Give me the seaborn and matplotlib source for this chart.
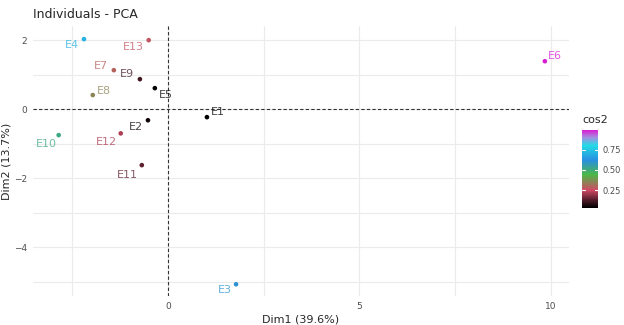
import numpy as np
import pandas as pd
import seaborn as sns
import matplotlib.pyplot as plt
from matplotlib.colors import LinearSegmentedColormap, Normalize
from matplotlib.cm import ScalarMappable

# 数据
names = ['E1', 'E2', 'E3', 'E4', 'E5', 'E6', 'E7', 'E8', 'E9', 'E10', 'E11', 'E12', 'E13']
dim1 = [1.02, -0.52, 1.78, -2.19, -0.34, 9.84, -1.41, -1.96, -0.73, -2.85, -0.68, -1.23, -0.50]
dim2 = [-0.23, -0.32, -5.07, 2.03, 0.61, 1.39, 1.13, 0.41, 0.87, -0.75, -1.62, -0.70, 2.00]
cos2 = [0.03, 0.05, 0.60, 0.70, 0.04, 0.99, 0.29, 0.35, 0.11, 0.51, 0.14, 0.22, 0.27]
# 标签偏移(像素)
lab_dx = [11, -12, -11, -12, 11, 10, -13, 11, -13, -12, -14, -14, -15]
lab_dy = [5, -7, -6, -6, -7, 5, 4, 4, 5, -9, -10, -9, -7]

df = pd.DataFrame({'name': names, 'Dim1': dim1, 'Dim2': dim2, 'cos2': cos2})

# 颜色渐变
vmin, vmax = min(cos2), max(cos2)
stops = [(0.0, '#000000'), (0.12, '#4a1a26'), (0.25, '#d04a64'), (0.44, '#4cb848'),
         (0.62, '#2a8fe0'), (0.80, '#22dbe6'), (0.90, '#a48ee0'), (1.0, '#d81ed4')]
cmap = LinearSegmentedColormap.from_list(
    'cos2', [(np.clip((v - vmin) / (vmax - vmin), 0, 1), c) for v, c in stops])
norm = Normalize(vmin=vmin, vmax=vmax)

sns.set_style('white')
plt.rcParams['font.family'] = ['DejaVu Sans']
fig = plt.figure(figsize=(6.24, 3.25), dpi=100)
ax = fig.add_axes([33 / 624, 1 - 296 / 325, 536 / 624, 270 / 325])

# 网格
for v in [-2.5, 0, 2.5, 5, 7.5, 10]:
    ax.axvline(v, color='#ebebeb', lw=0.8, zorder=0)
for v in [-5, -4, -3, -2, -1, 0, 1, 2]:
    ax.axhline(v, color='#ebebeb', lw=0.8, zorder=0)
ax.axhline(0, color='#333333', lw=0.8, ls=(0, (3, 2)), zorder=1)
ax.axvline(0, color='#333333', lw=0.8, ls=(0, (3, 2)), zorder=1)

sns.scatterplot(data=df, x='Dim1', y='Dim2', hue='cos2', palette=cmap, hue_norm=norm,
                s=11, linewidth=0, legend=False, ax=ax, zorder=3)

for i, row in df.iterrows():
    ax.annotate(row['name'], (row['Dim1'], row['Dim2']), xytext=(lab_dx[i] * 0.72, lab_dy[i] * 0.72),
                textcoords='offset points', ha='center', va='center', fontsize=8,
                color=cmap(norm(row['cos2'])), alpha=0.75)

ax.set_xlim(-3.52, 10.47)
ax.set_ylim(-5.41, 2.41)
ax.set_xticks([0, 5, 10])
ax.set_yticks([-4, -2, 0, 2])
ax.tick_params(axis='both', labelsize=6.5, labelcolor='#4d4d4d', length=2, width=0.6,
               color='#4d4d4d', pad=2)
for s in ax.spines.values():
    s.set_visible(False)
ax.set_xlabel('Dim1 (39.6%)', fontsize=8, labelpad=3)
ax.set_ylabel('Dim2 (13.7%)', fontsize=8)
ax.yaxis.set_label_coords(-21 / 536, 0.5)
ax.set_title('Individuals - PCA', fontsize=9, loc='left', pad=6)

# 颜色条
cax = fig.add_axes([582 / 624, 1 - 208 / 325, 16 / 624, 78 / 325])
cb = fig.colorbar(ScalarMappable(norm=norm, cmap=cmap), cax=cax, ticks=[0.25, 0.50, 0.75])
cb.outline.set_visible(False)
cb.ax.tick_params(labelsize=6, labelcolor='#4d4d4d', length=0, pad=3)
cb.ax.set_yticklabels(['0.25', '0.50', '0.75'])
for t in [0.25, 0.5, 0.75]:
    cax.plot([0, 0.2], [t, t], color='white', lw=0.8, transform=cax.get_yaxis_transform())
    cax.plot([0.8, 1], [t, t], color='white', lw=0.8, transform=cax.get_yaxis_transform())
fig.text(582 / 624, 1 - 120 / 325, 'cos2', fontsize=8, va='center', ha='left')

fig.savefig('out.png', dpi=100)
